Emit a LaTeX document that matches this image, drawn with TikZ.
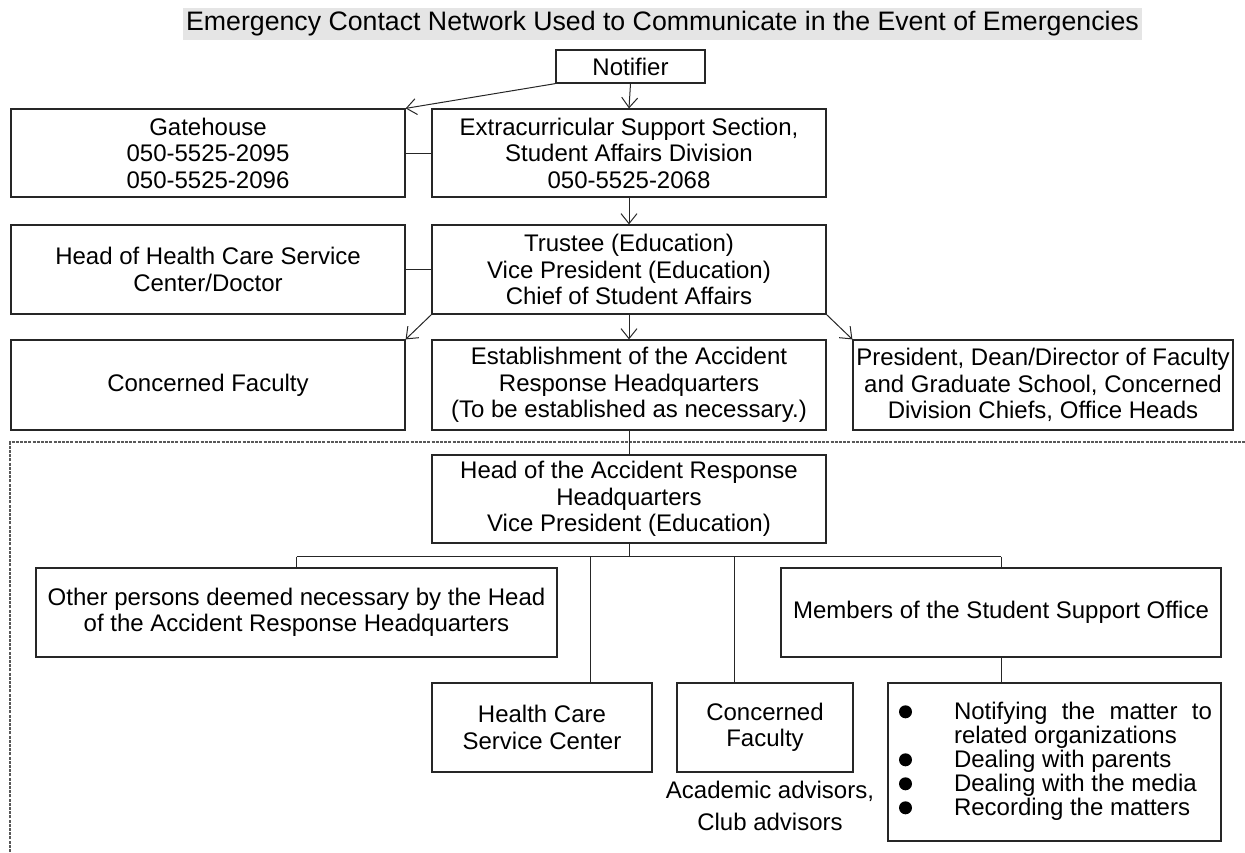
\documentclass[tikz,border=0pt]{standalone}
\usepackage{fontspec}
\setmainfont{Liberation Sans}
\usetikzlibrary{arrows.meta}
\newcommand{\blt}{\tikz[baseline=-7.5pt]\fill[black] (0,0) circle (6.5pt);}
\begin{document}
\begin{tikzpicture}[x=1pt,y=-1pt,
  box/.style={draw=black!85, line width=1.2pt, inner sep=0pt, align=center,
    font=\fontsize{24}{26.5}\selectfont},
  conn/.style={line width=1pt, black!85},
  arr/.style={conn, -{Straight Barb[length=10pt,width=16pt,line width=1pt]}},
  dashline/.style={line width=1.1pt, black!65, dash pattern=on 3pt off 1.2pt},
  plain/.style={inner sep=0pt, align=center, font=\fontsize{24}{26.5}\selectfont}
]
\useasboundingbox (0,0) rectangle (1245,852);

% title
\node[fill=black!10, minimum width=959pt, minimum height=32pt, inner sep=0pt,
  font=\fontsize{26.7}{28}\selectfont] (title) at (662.5,24)
  {Emergency Contact Network Used to Communicate in the Event of Emergencies};

% dashed frame
\coordinate (dA) at (10,852);
\coordinate (dB) at (10,442);
\coordinate (dC) at (1245,442);
\draw[dashline] (dA) -- (dB) -- (dC);

% boxes
\node[box, minimum width=149pt, minimum height=33pt] (notifier) at (630.5,66.5) {Notifier};
\node[box, minimum width=394pt, minimum height=88pt] (gate) at (208,153)
  {Gatehouse\\050-5525-2095\\050-5525-2096};
\node[box, minimum width=394pt, minimum height=88pt] (extra) at (629,153)
  {Extracurricular Support Section,\\Student Affairs Division\\050-5525-2068};
\node[box, minimum width=394pt, minimum height=89pt] (hhc) at (208,269.5)
  {Head of Health Care Service\\Center/Doctor};
\node[box, minimum width=394pt, minimum height=89pt] (trustee) at (629,269.5)
  {Trustee (Education)\\Vice President (Education)\\Chief of Student Affairs};
\node[box, minimum width=394pt, minimum height=90pt] (cf1) at (208,385)
  {Concerned Faculty};
\node[box, minimum width=394pt, minimum height=90pt] (estab) at (629,385)
  {Establishment of the Accident\\Response Headquarters\\(To be established as necessary.)};
\node[box, minimum width=380pt, minimum height=90pt] (pres) at (1043,385)
  {President, Dean/Director of Faculty\\and Graduate School, Concerned\\Division Chiefs, Office Heads};
\node[box, minimum width=394pt, minimum height=88pt, fill=white] (head) at (629,499)
  {Head of the Accident Response\\Headquarters\\Vice President (Education)};
\node[box, minimum width=521pt, minimum height=89pt] (other) at (296.5,612.5)
  {Other persons deemed necessary by the Head\\of the Accident Response Headquarters};
\node[box, minimum width=440pt, minimum height=89pt] (members) at (1001,612.5)
  {Members of the Student Support Office};
\node[box, minimum width=220pt, minimum height=89pt] (hcsc) at (542,727.5)
  {Health Care\\Service Center};
\node[box, minimum width=176pt, minimum height=89pt] (cf2) at (765,727.5)
  {Concerned\\Faculty};
\node[plain] (adv) at (770,806) {Academic advisors,\\[5.5pt]Club advisors};
\node[box, minimum width=333pt, minimum height=158pt, align=left] (list) at (1054.5,762)
  {\begin{tabular}{@{}p{66pt}@{}p{258pt}@{\hspace{9pt}}}
   \hspace*{11pt}\blt & Notifying\hfill the\hfill matter\hfill to\\[-2.5pt]
   & related organizations\\[-2.5pt]
   \hspace*{11pt}\blt & Dealing with parents\\[-2.5pt]
   \hspace*{11pt}\blt & Dealing with the media\\[-2.5pt]
   \hspace*{11pt}\blt & Recording the matters
   \end{tabular}};

% connectors
\draw[arr] (notifier.south) -- (extra.north);
\draw[arr] (notifier.south west) -- (gate.north east);
\draw[conn] (gate.east) -- (extra.west);
\draw[arr] (extra.south) -- (trustee.north);
\draw[conn] (hhc.east) -- (trustee.west);
\draw[arr] (trustee.south west) -- (cf1.north east);
\draw[arr] (trustee.south) -- (estab.north);
\draw[arr] (trustee.south east) -- (pres.north west);
\draw[conn] (estab.south) -- (head.north);

\coordinate (bus) at (629,556.7);
\coordinate (busL) at (296.5,556.7);
\coordinate (busR) at (1001,556.7);
\coordinate (bus2) at (590.7,556.7);
\coordinate (bus3) at (734,556.7);
\draw[conn] (head.south) -- (bus);
\draw[conn] (busL) -- (busR);
\draw[conn] (busL) -- (other.north);
\draw[conn] (busR) -- (members.north);
\draw[conn] (bus2) -- (bus2 |- hcsc.north);
\draw[conn] (bus3) -- (bus3 |- cf2.north);
\draw[conn] (members.south) -- (members.south |- list.north);
\end{tikzpicture}
\end{document}
